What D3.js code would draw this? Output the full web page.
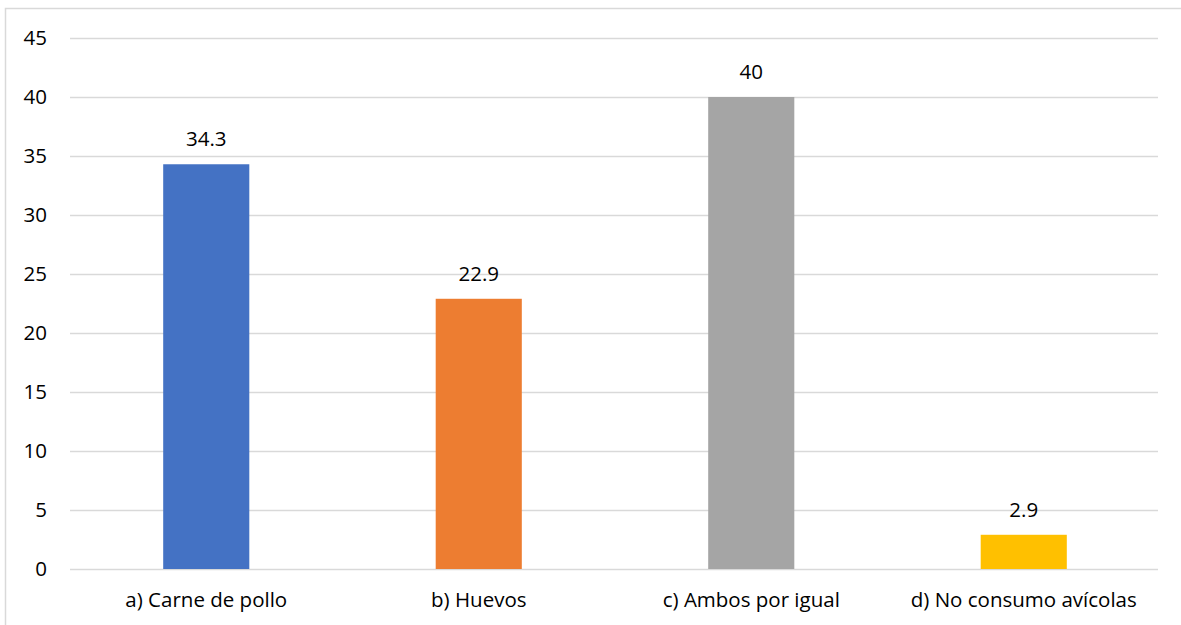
<!DOCTYPE html>
<html><head><meta charset="utf-8">
<script src="https://cdn.jsdelivr.net/npm/d3@7"></script>
<style>body{margin:0;background:#fff}svg{display:block}text{font-family:"Open Sans","Liberation Sans",sans-serif;fill:#000}</style>
</head><body><svg id="c" width="1181" height="625"></svg>
<script>
const categories = ["a) Carne de pollo","b) Huevos","c) Ambos por igual","d) No consumo avícolas"];
const values = [34.3, 22.9, 40, 2.9];
const valueLabels = ["34.3","22.9","40","2.9"];
const colors = ["#4472C4","#ED7D31","#A5A5A5","#FFC000"];
const yTicks = [0,5,10,15,20,25,30,35,40,45];

(function(){
const FS = 20.5;
const svg = d3.select("#c");
svg.append("rect").attr("x",5.5).attr("y",8.5).attr("width",1200).attr("height",700)
  .attr("fill","none").attr("stroke","#d9d9d9").attr("stroke-width",1.5);

const pl=70, pr=1160, pt=38, pb=569;
const x = d3.scaleBand().domain(categories).range([pl,pr]).paddingInner(0.684).paddingOuter(0.342);
const y = d3.scaleLinear().domain([0,45]).range([pb,pt]);

const g = svg.append("g");
g.selectAll("line.grid").data(yTicks).join("line")
  .attr("x1",pl).attr("x2",pr-2)
  .attr("y1",d=>Math.round(y(d))+0.5).attr("y2",d=>Math.round(y(d))+0.5)
  .attr("stroke","#d9d9d9").attr("stroke-width",1.3);
g.selectAll("text.yt").data(yTicks).join("text")
  .attr("x",47).attr("y",d=>y(d)).attr("dy","0.36em").attr("text-anchor","end")
  .style("font-size",FS+"px").text(d=>d);
g.selectAll("rect.bar").data(values).join("rect")
  .attr("x",(d,i)=>x(categories[i])).attr("width",x.bandwidth())
  .attr("y",d=>y(d)).attr("height",d=>pb-y(d)).attr("fill",(d,i)=>colors[i]);
g.selectAll("text.vl").data(values).join("text")
  .attr("x",(d,i)=>x(categories[i])+x.bandwidth()/2).attr("y",d=>y(d)-18)
  .attr("text-anchor","middle").style("font-size",FS+"px").text((d,i)=>valueLabels[i]);
const xAxis = d3.axisBottom(x).tickSize(0).tickPadding(0);
const ax = svg.append("g").attr("transform",`translate(0,${pb})`).call(xAxis);
ax.select(".domain").remove();
ax.selectAll("text").attr("y",38).attr("dy",0).style("font-size",FS+"px")
  .style("font-family",'"Open Sans","Liberation Sans",sans-serif').attr("fill","#000");
})();
</script></body></html>
